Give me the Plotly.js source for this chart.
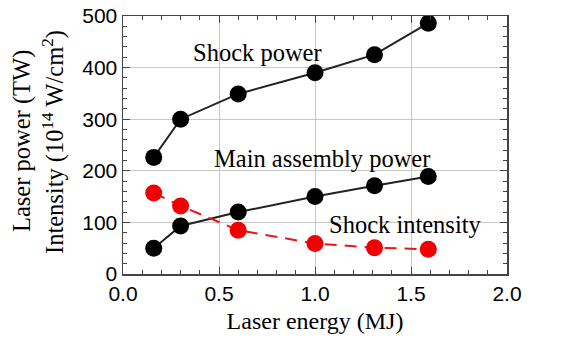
<!DOCTYPE html>
<html>
<head>
<meta charset="utf-8">
<script src="https://cdn.plot.ly/plotly-3.0.1.min.js"></script>
<style>html,body{margin:0;padding:0;background:#fff;}#chart{width:569px;height:344px;}</style>
</head>
<body>
<div id="chart"></div>
<script>
var energy = [0.16, 0.30, 0.60, 1.00, 1.31, 1.59];
var shockPower = [226, 300, 349, 390, 425, 486];
var mainAssemblyPower = [50, 93, 120, 150, 171, 189];
var shockIntensity = [157, 132, 85, 59, 51, 48];
var xTickVals = [0, 0.5, 1.0, 1.5, 2.0];
var xTickText = ['0.0', '0.5', '1.0', '1.5', '2.0'];
var yTickVals = [0, 100, 200, 300, 400, 500];
var labels = ['Shock power', 'Main assembly power', 'Shock intensity'];

var serif = 'Liberation Serif, Times New Roman, serif';
var sans = 'Liberation Sans, Arial, Helvetica, sans-serif';

var traces = [
  {x: energy, y: shockPower, mode: 'lines+markers', type: 'scatter',
   line: {color: '#222', width: 2}, marker: {color: '#000', size: 17}},
  {x: energy, y: mainAssemblyPower, mode: 'lines+markers', type: 'scatter',
   line: {color: '#222', width: 2}, marker: {color: '#000', size: 17}},
  {x: energy, y: shockIntensity, mode: 'lines+markers', type: 'scatter',
   line: {color: '#e8151b', width: 2, dash: '12px,8px'}, marker: {color: '#f00000', size: 17}}
];

var layout = {
  width: 569, height: 344,
  margin: {l: 123, r: 62, t: 16, b: 70},
  paper_bgcolor: '#fff', plot_bgcolor: '#fff',
  showlegend: false,
  xaxis: {
    range: [0, 2], tickvals: xTickVals, ticktext: xTickText,
    ticks: 'inside', ticklen: 7, tickcolor: '#444', mirror: 'ticks',
    showline: true, linecolor: '#444', linewidth: 1.5,
    showgrid: true, gridcolor: '#c8c8c8', gridwidth: 1, zeroline: false,
    minor: {dtick: 0.1, ticks: 'inside', ticklen: 4, tickcolor: '#444', showgrid: false},
    tickfont: {family: sans, size: 21, color: '#000'},
    title: {text: 'Laser energy (MJ)', font: {family: serif, size: 24, color: '#000'}, standoff: 8}
  },
  yaxis: {
    range: [0, 500], tickvals: yTickVals,
    ticks: 'inside', ticklen: 7, tickcolor: '#444', mirror: 'ticks',
    showline: true, linecolor: '#444', linewidth: 1.5,
    showgrid: true, gridcolor: '#c8c8c8', gridwidth: 1, zeroline: false,
    minor: {dtick: 20, ticks: 'inside', ticklen: 4, tickcolor: '#444', showgrid: false},
    tickfont: {family: sans, size: 21, color: '#000'}
  },
  annotations: [
    {text: labels[0], x: 257, y: 52, showarrow: false},
    {text: labels[1], x: 322, y: 158, showarrow: false},
    {text: labels[2], x: 405, y: 224, showarrow: false},
    {text: 'Laser power (TW)', x: 22, y: 141, textangle: -90, showarrow: false},
    {text: 'Intensity (10<sup>14</sup> W/cm<sup>2</sup>)', x: 53, y: 142, textangle: -90, showarrow: false}
  ]
};

// convert pixel positions of text labels to paper coords
var W = 569 - 123 - 62, H = 344 - 16 - 70;
layout.annotations = layout.annotations.map(function (a) {
  return Object.assign({}, a, {
    xref: 'paper', yref: 'paper',
    x: (a.x - 123) / W, y: 1 - (a.y - 16) / H,
    xanchor: 'center', yanchor: 'middle',
    font: {family: serif, size: 24.5, color: '#000'}
  });
});

Plotly.newPlot('chart', traces, layout, {displayModeBar: false, staticPlot: true});
</script>
</body>
</html>
